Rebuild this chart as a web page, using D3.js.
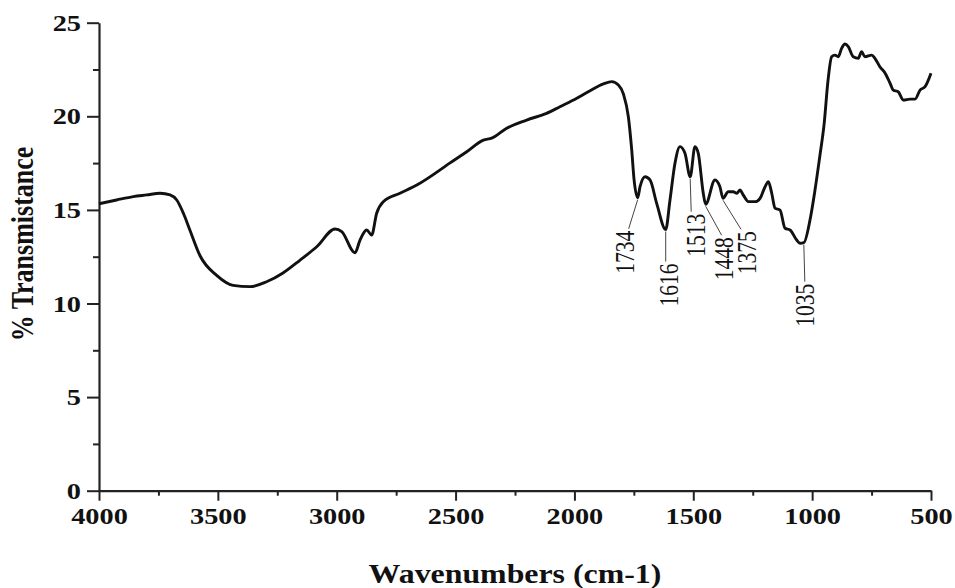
<!DOCTYPE html>
<html>
<head>
<meta charset="utf-8">
<script src="https://cdn.jsdelivr.net/npm/d3@7"></script>
<style>
  html, body { margin: 0; padding: 0; background: #fff; }
  svg { display: block; }
  text { font-family: "Liberation Serif", "Times New Roman", serif; fill: #111; }
</style>
</head>
<body>
<svg id="chart" width="955" height="588"></svg>
<script>
// FTIR spectrum: wavenumber (cm-1) and % transmittance
const wavenumbers = [4000, 3926, 3856, 3799, 3743, 3701, 3673, 3645, 3617, 3575, 3505, 3436, 3365, 3295, 3226, 3154, 3084, 3007, 2979, 2923, 2902, 2874, 2853, 2832, 2804, 2734, 2663, 2523, 2453, 2383, 2348, 2285, 2201, 2117, 2061, 1990, 1934, 1878, 1843, 1815, 1794, 1773, 1759, 1749, 1734, 1724, 1703, 1682, 1654, 1616, 1598, 1577, 1556, 1535, 1513, 1493, 1479, 1458, 1448, 1409, 1388, 1375, 1353, 1332, 1317, 1303, 1290, 1268, 1240, 1219, 1198, 1184, 1170, 1156, 1135, 1114, 1093, 1065, 1051, 1035, 1009, 988, 967, 950, 933, 918, 904, 890, 876, 862, 848, 827, 806, 792, 778, 749, 736, 715, 693, 672, 659, 638, 616, 588, 567, 546, 525, 500];
const transmittance = [15.33, 15.53, 15.71, 15.80, 15.89, 15.80, 15.53, 14.82, 13.90, 12.55, 11.50, 10.97, 10.90, 11.16, 11.63, 12.32, 13.03, 13.98, 13.84, 12.71, 13.39, 13.93, 13.66, 14.82, 15.44, 15.89, 16.33, 17.51, 18.11, 18.73, 18.83, 19.36, 19.80, 20.16, 20.51, 20.96, 21.37, 21.73, 21.85, 21.67, 21.19, 19.96, 18.20, 16.60, 15.65, 16.24, 16.77, 16.60, 15.35, 13.95, 15.53, 17.49, 18.38, 18.02, 16.77, 18.38, 18.02, 15.89, 15.30, 16.60, 16.24, 15.62, 15.97, 15.97, 15.89, 16.06, 15.80, 15.44, 15.44, 15.62, 16.24, 16.51, 15.89, 15.09, 14.99, 14.02, 13.93, 13.39, 13.22, 13.25, 14.46, 16.06, 17.93, 19.54, 21.94, 23.18, 23.27, 23.18, 23.63, 23.86, 23.72, 23.18, 23.10, 23.45, 23.18, 23.27, 23.10, 22.65, 22.30, 21.76, 21.40, 21.31, 20.87, 20.92, 20.92, 21.40, 21.58, 22.30];

// Annotated absorption bands
const peakLabels = [1734, 1616, 1513, 1448, 1375, 1035];

// Axis ticks
const xTicks = [4000, 3500, 3000, 2500, 2000, 1500, 1000, 500];
const xMinorTicks = [3750, 3250, 2750, 2250, 1750, 1250, 750];
const yTicks = [0, 5, 10, 15, 20, 25];
const yMinorTicks = [2.5, 7.5, 12.5, 17.5, 22.5];

const xTitle = "Wavenumbers (cm-1)";
const yTitle = "% Transmistance";

// Leader-line layout for each band label: horizontal shift, length, text shift
const leaderLayout = {
  1734: { dx: -9, len: 29, tdx: -4 },
  1616: { dx: 0, len: 30, tdx: 3 },
  1513: { dx: 1, len: 33, tdx: 4 },
  1448: { dx: 16, len: 29, tdx: 2 },
  1375: { dx: 18, len: 29, tdx: 6 },
  1035: { dx: 1, len: 37, tdx: 0 }
};

// Text is set slightly wide, as in the printed figure
const WIDE = 1.18;
const WIDE_LABEL = 1.25;

const svg = d3.select("#chart");
const margin = { left: 99, top: 22.7, right: 24, bottom: 97.3 };
const W = 955 - margin.left - margin.right;
const H = 588 - margin.top - margin.bottom;

const x = d3.scaleLinear().domain([4000, 500]).range([0, W]);
const y = d3.scaleLinear().domain([0, 25]).range([H, 0]);

const g = svg.append("g").attr("transform", `translate(${margin.left},${margin.top})`);

const axisColor = "#222";

// Minor ticks
g.append("g")
  .attr("transform", `translate(0,${H})`)
  .call(d3.axisBottom(x).tickValues(xMinorTicks).tickSize(5).tickFormat(""))
  .call(s => s.select(".domain").remove())
  .call(s => s.selectAll("line").attr("stroke", axisColor).attr("stroke-width", 2));
g.append("g")
  .call(d3.axisLeft(y).tickValues(yMinorTicks).tickSize(6).tickFormat(""))
  .call(s => s.select(".domain").remove())
  .call(s => s.selectAll("line").attr("stroke", axisColor).attr("stroke-width", 2));

// Major axes
const xAxis = g.append("g")
  .attr("transform", `translate(0,${H})`)
  .call(d3.axisBottom(x).tickValues(xTicks).tickSize(10).tickSizeOuter(0).tickPadding(6).tickFormat(d3.format("d")));
const yAxis = g.append("g")
  .call(d3.axisLeft(y).tickValues(yTicks).tickSize(12).tickSizeOuter(0).tickPadding(6).tickFormat(d3.format("d")));

[xAxis, yAxis].forEach(a => {
  a.select(".domain").attr("stroke", axisColor).attr("stroke-width", 2.2);
  a.selectAll(".tick line").attr("stroke", axisColor).attr("stroke-width", 2);
  a.selectAll(".tick text")
    .attr("font-family", "'Liberation Serif', 'Times New Roman', serif")
    .attr("font-size", 24)
    .attr("font-weight", "bold")
    .attr("fill", "#111")
    .attr("transform", `scale(${WIDE},1)`);
});
yAxis.selectAll(".tick text").attr("x", -18 / WIDE);

// Spectrum line
const data = wavenumbers.map((w, i) => ({ w, t: transmittance[i] }));
const line = d3.line()
  .x(d => x(d.w))
  .y(d => y(d.t))
  .curve(d3.curveMonotoneX);

g.append("path")
  .datum(data)
  .attr("fill", "none")
  .attr("stroke", "#111")
  .attr("stroke-width", 2.9)
  .attr("stroke-linejoin", "round")
  .attr("d", line);

// Band annotations
const labels = g.append("g");
peakLabels.forEach(p => {
  const t = transmittance[wavenumbers.indexOf(p)];
  const lay = leaderLayout[p];
  const px = x(p), py = y(t) + 2;
  const ex = px + lay.dx, ey = py + lay.len;
  labels.append("line")
    .attr("x1", px).attr("y1", py)
    .attr("x2", ex).attr("y2", ey)
    .attr("stroke", "#444").attr("stroke-width", 1);
  const tx = ex + lay.tdx, ty = ey + 2;
  labels.append("text")
    .attr("transform", `translate(${tx},${ty}) scale(${WIDE_LABEL},1) rotate(-90)`)
    .attr("text-anchor", "end")
    .attr("dy", "0.35em")
    .attr("font-size", 21.5)
    .text(p);
});

// Axis titles
svg.append("text")
  .attr("transform", `translate(${margin.left + W / 2},583) scale(${WIDE},1)`)
  .attr("text-anchor", "middle")
  .attr("font-size", 27)
  .attr("font-weight", "bold")
  .text(xTitle);

svg.append("text")
  .attr("transform", `translate(33,244) scale(${WIDE},1) rotate(-90)`)
  .attr("text-anchor", "middle")
  .attr("font-size", 26)
  .attr("font-weight", "bold")
  .text(yTitle);
</script>
</body>
</html>
